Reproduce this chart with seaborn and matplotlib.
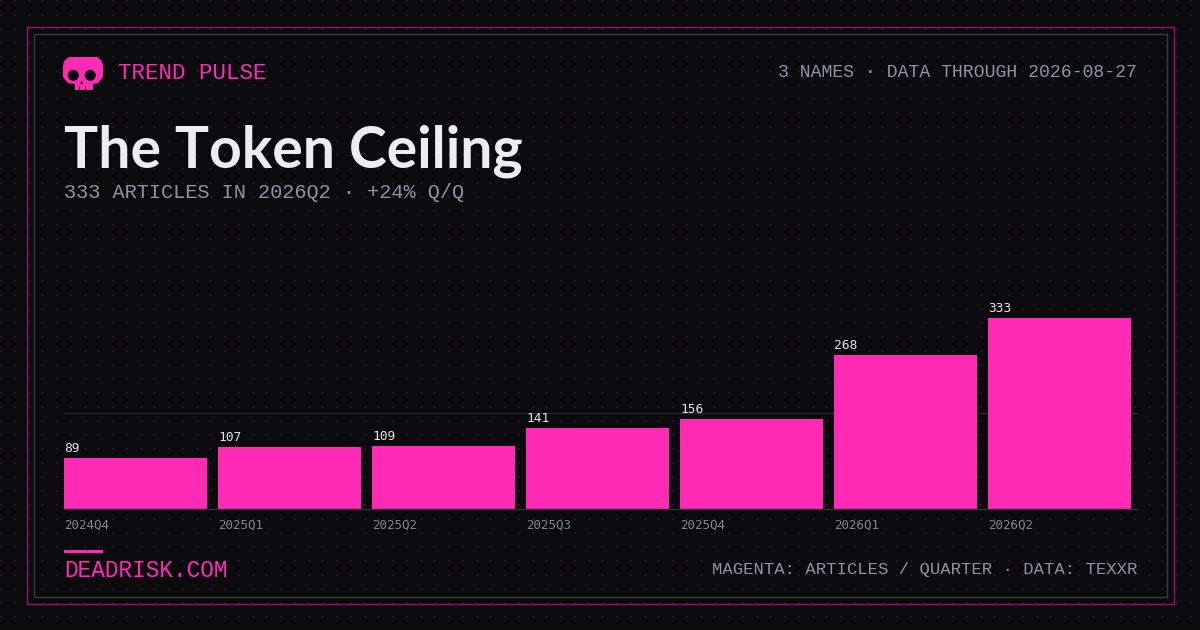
import matplotlib
matplotlib.use('Agg')
import matplotlib.pyplot as plt
import seaborn as sns
import numpy as np
import pandas as pd
from matplotlib.patches import Rectangle, Polygon, Circle

# datos del grafico
quarters = ['2024Q4', '2025Q1', '2025Q2', '2025Q3', '2025Q4', '2026Q1', '2026Q2']
articles = [89, 107, 109, 141, 156, 268, 333]

brand = 'TREND PULSE'
meta = '3 NAMES \u00b7 DATA THROUGH 2026-08-27'
title = 'The Token Ceiling'
subtitle = '333 ARTICLES IN 2026Q2 \u00b7 +24% Q/Q'
site = 'DEADRISK.COM'
note = 'MAGENTA: ARTICLES / QUARTER \u00b7 DATA: TEXXR'

# colores
BG = '#0b0b0e'
MAGENTA = '#ff2bb5'
DOT = '#2a1530'
FRAME_OUT = '#9e136f'
FRAME_IN = '#3a3a3f'
GRID = '#2a2a2f'
TITLE = '#ececf1'
GRAY = '#8e94a6'
TICK = '#7f8595'
VAL = '#e4e4ea'
MONO = ['Liberation Mono', 'DejaVu Sans Mono']

sns.set_style('dark', {'axes.facecolor': 'none', 'figure.facecolor': BG})
plt.rcParams['font.family'] = ['DejaVu Sans']

W, H = 1200, 630
fig = plt.figure(figsize=(12, 6.3), dpi=100, facecolor=BG)

# fondo con puntos, marcos y logo (en pixeles)
bg = fig.add_axes([0, 0, 1, 1])
bg.set_xlim(0, W)
bg.set_ylim(H, 0)
bg.axis('off')
bg.set_zorder(0)
gx, gy = np.meshgrid(np.arange(0.7, W, 14), np.arange(0.7, H, 14))
bg.scatter(gx.ravel(), gy.ravel(), s=1.6, marker='s', linewidths=0, c=DOT)
bg.add_patch(Rectangle((26.5, 26.5), 1147, 577, fill=False, ec=FRAME_OUT, lw=1))
bg.add_patch(Rectangle((33.5, 33.5), 1133, 563, fill=False, ec=FRAME_IN, lw=1))

# calavera
skull = [(69, 57), (97, 57), (102, 61), (103, 66), (103, 77), (98, 83), (93, 84), (93, 90),
         (75, 90), (75, 84), (68, 83), (63, 77), (63, 66), (64, 61)]
bg.add_patch(Polygon(skull, closed=True, fc=MAGENTA, ec='none'))
bg.add_patch(Circle((73.3, 75.3), 5.5, fc=BG, ec='none'))
bg.add_patch(Circle((90.3, 75.3), 5.5, fc=BG, ec='none'))
bg.add_patch(Polygon([(81.8, 80.5), (80, 84), (83.6, 84)], closed=True, fc=BG, ec='none'))
bg.add_patch(Rectangle((78.5, 86), 1.4, 4.5, fc=BG, ec='none'))
bg.add_patch(Rectangle((85, 86), 1.4, 4.5, fc=BG, ec='none'))

# barra de pie
bg.add_patch(Rectangle((64, 549.5), 39, 3, fc=MAGENTA, ec='none'))

# grafico de barras
base_y = 508.7
bar_px = 190.7 / max(articles)
ax_h = base_y - 230
ax = fig.add_axes([64 / W, (H - base_y) / H, 1073 / W, ax_h / H])
ax.set_zorder(2)
ax.set_facecolor('none')

w = 143 / 154
df = pd.DataFrame({'quarter': quarters, 'articles': articles})
sns.barplot(data=df, x='quarter', y='articles', color=MAGENTA, saturation=1,
            width=w, linewidth=0, edgecolor='none', ax=ax)

ax.set_ylim(0, ax_h / bar_px)
ax.set_xlim(-w / 2, -w / 2 + 1073 / 154)
ax.set_yticks([max(articles) / 2])
ax.yaxis.grid(True, color=GRID, lw=1)
ax.xaxis.grid(False)
ax.set_axisbelow(True)
ax.tick_params(axis='y', length=0, labelleft=False)
ax.set_xticks(np.arange(len(quarters)) - w / 2)
ax.set_xticklabels(quarters, ha='left', fontfamily='DejaVu Sans Mono', fontsize=9, color=TICK)
ax.tick_params(axis='x', length=0, pad=7.4)
ax.set_xlabel('')
ax.set_ylabel('')
for s in ['top', 'left', 'right']:
    ax.spines[s].set_visible(False)
ax.spines['bottom'].set_color('#303035')
ax.spines['bottom'].set_linewidth(1)

for i, v in enumerate(articles):
    ax.annotate(str(v), (i - w / 2, v), xytext=(0, 4.4), textcoords='offset points',
                ha='left', va='baseline', fontfamily='DejaVu Sans Mono', fontsize=9.3, color=VAL)


def px(x, y):
    return x / W, 1 - y / H


fig.text(*px(118, 79), brand, ha='left', va='baseline', fontfamily=MONO, fontsize=16.2, color=MAGENTA)
fig.text(*px(1137, 77.3), meta, ha='right', va='baseline', fontfamily=MONO, fontsize=13.1, color=GRAY)
fig.text(*px(64, 167.7), title, ha='left', va='baseline', fontfamily=['Lato', 'DejaVu Sans'],
         fontweight='bold', fontsize=41, color=TITLE)
fig.text(*px(64, 198.3), subtitle, ha='left', va='baseline', fontfamily=MONO, fontsize=14.6, color=GRAY)
fig.text(*px(64, 577), site, ha='left', va='baseline', fontfamily=MONO, fontsize=16.4, color=MAGENTA)
fig.text(*px(1137, 574), note, ha='right', va='baseline', fontfamily=MONO, fontsize=12.4, color=GRAY)

fig.savefig('out.png', dpi=100, facecolor=BG)
